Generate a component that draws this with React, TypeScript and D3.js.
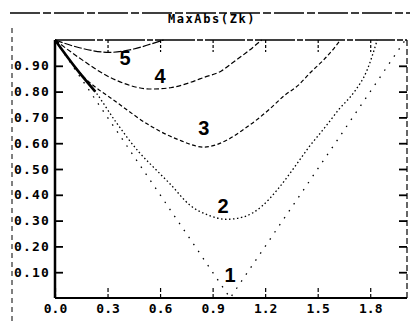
import { useEffect, useRef } from "react"
import * as d3 from "d3"

const title = "MaxAbs(Zk)"
const xTicks = [0, 0.3, 0.6, 0.9, 1.2, 1.5, 1.8]
const yTicks = [0.1, 0.2, 0.3, 0.4, 0.5, 0.6, 0.7, 0.8, 0.9]

const curve1X = [0, 1, 2]
const curve1Y = [1, 0, 1]
const curve2X = [0, 0.12, 0.23, 0.35, 0.48, 0.58, 0.66, 0.77, 0.88, 0.98, 1.08, 1.18, 1.27, 1.36, 1.45, 1.54, 1.62, 1.71, 1.78, 1.84]
const curve2Y = [1, 0.89, 0.8, 0.68, 0.565, 0.495, 0.44, 0.36, 0.32, 0.305, 0.315, 0.355, 0.42, 0.5, 0.585, 0.66, 0.73, 0.8, 0.88, 1.0]
const curve3X = [0, 0.16, 0.35, 0.55, 0.7, 0.85, 0.99, 1.08, 1.16, 1.23, 1.31, 1.39, 1.46, 1.53, 1.59, 1.63]
const curve3Y = [1, 0.86, 0.76, 0.665, 0.615, 0.585, 0.615, 0.655, 0.695, 0.735, 0.785, 0.825, 0.875, 0.92, 0.965, 1.0]
const curve4X = [0, 0.14, 0.33, 0.55, 0.66, 0.77, 0.85, 0.95, 1.02, 1.1, 1.18]
const curve4Y = [1, 0.93, 0.85, 0.81, 0.815, 0.835, 0.855, 0.88, 0.915, 0.955, 1.0]
const curve5X = [0, 0.14, 0.31, 0.45, 0.55, 0.62]
const curve5Y = [1, 0.97, 0.952, 0.965, 0.985, 1.0]

const curveNames = ["1", "2", "3", "4", "5"]
const labelX = [1.0, 0.96, 0.85, 0.6, 0.4]
const labelY = [0.09, 0.355, 0.66, 0.86, 0.93]

export default function App() {
  const svgRef = useRef<SVGSVGElement>(null)

  useEffect(() => {
    if (!svgRef.current) return
    const width = 410
    const height = 323
    const svg = d3.select(svgRef.current).attr("width", width).attr("height", height)
    svg.selectAll("*").remove()

    const x = d3.scaleLinear().domain([0, 2.01]).range([55, 407])
    const y = d3.scaleLinear().domain([0, 1]).range([298, 40])
    const mono = "'DejaVu Sans Mono', monospace"

    // window frame bits
    svg.append("line").attr("x1", 10).attr("x2", 410).attr("y1", 13).attr("y2", 13)
      .attr("stroke", "#000").attr("stroke-width", 1.5).attr("stroke-dasharray", "30,3,8,3")
    svg.append("line").attr("x1", 12).attr("x2", 12).attr("y1", 28).attr("y2", 323)
      .attr("stroke", "#000").attr("stroke-width", 1).attr("stroke-dasharray", "5,4")

    svg.append("text").attr("x", 212).attr("y", 23).attr("text-anchor", "middle")
      .attr("font-family", mono).attr("font-size", 12).attr("font-weight", "bold")
      .attr("letter-spacing", 1.6).text(title)

    // frame of the plot
    svg.append("line").attr("x1", x(0)).attr("x2", x(2.01)).attr("y1", y(1)).attr("y2", y(1))
      .attr("stroke", "#000").attr("stroke-width", 1.5).attr("stroke-dasharray", "40,2,6,2")
    svg.append("line").attr("x1", x(2.01)).attr("x2", x(2.01)).attr("y1", y(1)).attr("y2", y(0))
      .attr("stroke", "#000").attr("stroke-width", 1.2).attr("stroke-dasharray", "6,3")

    const gx = svg.append("g").attr("transform", `translate(0,${y(0)})`)
      .call(d3.axisBottom(x).tickValues(xTicks).tickSize(-10).tickPadding(6).tickFormat(d3.format(".1f")))
    gx.select(".domain").attr("stroke-width", 1.8).attr("d", `M${x(0)},0H${x(2.01)}`)
    gx.selectAll(".tick line").attr("stroke-dasharray", "4,2").attr("stroke-width", 1.2)
    gx.selectAll("text").attr("font-family", mono).attr("font-size", 13).attr("font-weight", "bold")

    const gt = svg.append("g").attr("transform", `translate(0,${y(1)})`)
      .call(d3.axisTop(x).tickValues(xTicks.slice(1)).tickSize(-12).tickFormat(() => ""))
    gt.select(".domain").remove()
    gt.selectAll(".tick line").attr("stroke-dasharray", "3,2").attr("stroke-width", 1.2)

    const gy = svg.append("g").attr("transform", `translate(${x(0)},0)`)
      .call(d3.axisLeft(y).tickValues(yTicks).tickSize(-8).tickPadding(5).tickFormat(d3.format(".2f")))
    gy.select(".domain").attr("stroke-width", 2.5).attr("d", `M0,${y(1)}V${y(0)}`)
    gy.selectAll(".tick line").attr("stroke-width", 1.8)
    gy.selectAll("text").attr("font-family", mono).attr("font-size", 13).attr("font-weight", "bold")
      .attr("letter-spacing", 1.2)

    const gr = svg.append("g").attr("transform", `translate(${x(2.01)},0)`)
      .call(d3.axisRight(y).tickValues(yTicks).tickSize(-8).tickFormat(() => ""))
    gr.select(".domain").remove()
    gr.selectAll(".tick line").attr("stroke-width", 1.8)

    const line = d3.line<[number, number]>()
      .x((d) => x(d[0]))
      .y((d) => y(d[1]))
      .curve(d3.curveMonotoneX)

    const curves = [
      { xs: curve1X, ys: curve1Y, dash: "1.5,7", w: 1.3 },
      { xs: curve2X, ys: curve2Y, dash: "1.5,2.5", w: 1.3 },
      { xs: curve3X, ys: curve3Y, dash: "4,2.5", w: 1.2 },
      { xs: curve4X, ys: curve4Y, dash: "5,2.5", w: 1.2 },
      { xs: curve5X, ys: curve5Y, dash: "8,2", w: 1.2 },
    ]

    curves.forEach((c) => {
      const pts = c.xs.map((v, i) => [v, c.ys[i]] as [number, number])
      svg.append("path").attr("d", c.xs.length === 3 ? d3.line<[number, number]>().x((d) => x(d[0])).y((d) => y(d[1]))(pts) : line(pts))
        .attr("fill", "none").attr("stroke", "#000").attr("stroke-width", c.w)
        .attr("stroke-dasharray", c.dash)
    })

    // heavy start of curve 2 where the curves overlap
    const start2 = curve2X.map((v, i) => [v, curve2Y[i]] as [number, number]).filter((d) => d[0] <= 0.23)
    svg.append("path").attr("d", line(start2)).attr("fill", "none")
      .attr("stroke", "#000").attr("stroke-width", 2.6)

    curveNames.forEach((n, i) => {
      svg.append("text").attr("x", x(labelX[i])).attr("y", y(labelY[i]))
        .attr("text-anchor", "middle").attr("dominant-baseline", "central")
        .attr("font-family", "'Liberation Sans', Arial, sans-serif").attr("font-weight", "bold")
        .attr("font-size", 20).text(n)
    })
  }, [])

  return <svg ref={svgRef} style={{ position: "absolute", left: 0, top: 0, background: "#fff" }} />
}
